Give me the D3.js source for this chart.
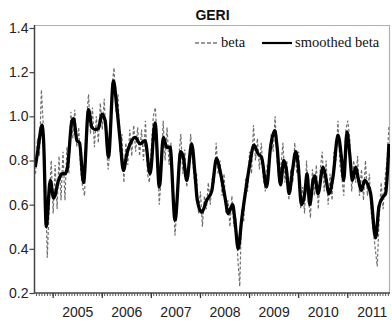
<!DOCTYPE html>
<html>
<head>
<meta charset="utf-8">
<script src="https://cdn.jsdelivr.net/npm/d3@7"></script>
<style>
  html, body { margin: 0; padding: 0; background: #fff; }
  svg { display: block; }
</style>
</head>
<body>
<svg id="chart" width="392" height="324"></svg>
<script>
// Smoothed beta: dates (decimal years) and values
const smoothDates = [
  2004.646, 2004.707, 2004.783, 2004.815, 2004.870, 2004.951, 2005.018, 2005.120, 2005.189, 2005.256,
  2005.303, 2005.392, 2005.425, 2005.494, 2005.547, 2005.628, 2005.730, 2005.799, 2005.866, 2005.933,
  2006.002, 2006.069, 2006.136, 2006.238, 2006.307, 2006.374, 2006.441, 2006.510, 2006.577, 2006.679,
  2006.780, 2006.882, 2006.984, 2007.085, 2007.173, 2007.254, 2007.323, 2007.390, 2007.492, 2007.608,
  2007.661, 2007.730, 2007.831, 2007.898, 2007.945, 2008.035, 2008.136, 2008.238, 2008.339, 2008.407,
  2008.508, 2008.575, 2008.665, 2008.711, 2008.778, 2008.848, 2008.949, 2009.016, 2009.098, 2009.185,
  2009.254, 2009.356, 2009.437, 2009.524, 2009.571, 2009.640, 2009.707, 2009.762, 2009.815, 2009.884,
  2009.951, 2009.998, 2010.067, 2010.134, 2010.181, 2010.236, 2010.303, 2010.337, 2010.404, 2010.506,
  2010.561, 2010.628, 2010.709, 2010.811, 2010.880, 2010.927, 2010.994, 2011.049, 2011.104, 2011.171,
  2011.217, 2011.287, 2011.354, 2011.409, 2011.476, 2011.577, 2011.644, 2011.726, 2011.780, 2011.848
];
const smoothValues = [
  0.77, 0.86, 0.96, 0.89, 0.50, 0.71, 0.63, 0.71, 0.74, 0.74,
  0.77, 0.98, 0.99, 0.89, 0.88, 0.70, 1.03, 0.95, 0.94, 0.945,
  1.01, 0.98, 0.815, 1.16, 1.04, 0.89, 0.755, 0.83, 0.875, 0.905,
  0.875, 0.89, 0.74, 0.97, 0.68, 0.905, 0.86, 0.86, 0.53, 0.84,
  0.815, 0.71, 0.875, 0.74, 0.62, 0.565, 0.62, 0.66, 0.81, 0.755,
  0.635, 0.56, 0.60, 0.53, 0.40, 0.53, 0.69, 0.785, 0.87, 0.83,
  0.815, 0.68, 0.86, 0.935, 0.86, 0.69, 0.80, 0.755, 0.65, 0.755,
  0.84, 0.785, 0.60, 0.65, 0.74, 0.60, 0.71, 0.73, 0.65, 0.77,
  0.725, 0.65, 0.725, 0.915, 0.815, 0.71, 0.93, 0.83, 0.71, 0.77,
  0.725, 0.665, 0.71, 0.695, 0.65, 0.45, 0.59, 0.635, 0.65, 0.875
];

// Raw beta: observed every betaStep years starting at betaStart
const betaStart = 2004.65;
const betaStep = 0.04;
const betaValues = [
  0.74, 0.90, 0.82, 1.12, 0.95, 0.72, 0.36, 0.60, 0.80, 0.56,
  0.78, 0.58, 0.82, 0.62, 0.84, 0.62, 0.86, 0.74, 1.02, 0.90,
  1.03, 0.86, 0.95, 0.76, 0.68, 0.64, 0.98, 1.10, 0.92, 1.04,
  0.86, 1.00, 0.88, 1.06, 0.94, 1.08, 0.88, 0.76, 0.86, 1.14,
  1.22, 1.02, 1.10, 0.84, 0.92, 0.70, 0.88, 0.78, 0.94, 0.82,
  0.96, 0.84, 0.95, 0.82, 0.94, 0.80, 0.98, 0.74, 0.70, 0.86,
  1.00, 1.04, 0.90, 0.60, 0.72, 0.98, 0.80, 0.95, 0.78, 0.88,
  0.72, 0.46, 0.58, 0.82, 0.92, 0.74, 0.85, 0.68, 0.74, 0.92,
  0.80, 0.70, 0.74, 0.56, 0.66, 0.50, 0.64, 0.58, 0.70, 0.60,
  0.72, 0.70, 0.88, 0.74, 0.80, 0.64, 0.74, 0.56, 0.62, 0.50,
  0.64, 0.50, 0.54, 0.36, 0.23, 0.58, 0.52, 0.72, 0.66, 0.84,
  0.74, 0.96, 0.80, 0.90, 0.76, 0.88, 0.72, 0.66, 0.78, 0.76,
  0.92, 0.84, 1.00, 0.80, 0.70, 0.78, 0.88, 0.70, 0.80, 0.62,
  0.76, 0.70, 0.88, 0.74, 0.84, 0.58, 0.68, 0.56, 0.80, 0.62,
  0.54, 0.76, 0.64, 0.78, 0.58, 0.76, 0.84, 0.66, 0.80, 0.60,
  0.74, 0.62, 0.84, 0.80, 0.98, 0.78, 0.72, 0.64, 0.94, 0.98,
  0.90, 0.66, 0.80, 0.70, 0.82, 0.64, 0.76, 0.62, 0.80, 0.64,
  0.74, 0.56, 0.48, 0.40, 0.32, 0.54, 0.70, 0.58, 0.72, 0.80,
  0.96
];

const yTicks = [0.2, 0.4, 0.6, 0.8, 1.0, 1.2, 1.4];
const years = [2005, 2006, 2007, 2008, 2009, 2010, 2011];

const title = "GERI";
const legendLabels = ["beta", "smoothed beta"];

const svg = d3.select("#chart");
const plotLeft = 35, plotRight = 390, plotTop = 25, plotBottom = 293;

const x = d3.scaleLinear().domain([2004.64, 2011.87]).range([plotLeft, plotRight]);
const y = d3.scaleLinear().domain([0.2, 1.4]).range([plotBottom, 28]);

// Plot frame (top and right edges in light grey)
svg.append("line").attr("x1", plotLeft).attr("x2", plotRight).attr("y1", plotTop + 0.5).attr("y2", plotTop + 0.5)
  .attr("stroke", "#b0b0b0").attr("stroke-width", 1.2);
svg.append("line").attr("x1", plotRight - 0.5).attr("x2", plotRight - 0.5).attr("y1", plotTop).attr("y2", plotBottom)
  .attr("stroke", "#b0b0b0").attr("stroke-width", 1.2);

const betaData = betaValues.map((v, i) => ({ t: betaStart + i * betaStep, v }));
const smoothData = smoothDates.map((t, i) => ({ t, v: smoothValues[i] }));

const clipId = "plotclip";
svg.append("clipPath").attr("id", clipId).append("rect")
  .attr("x", plotLeft).attr("y", plotTop).attr("width", plotRight - plotLeft).attr("height", plotBottom - plotTop);

const plot = svg.append("g").attr("clip-path", `url(#${clipId})`);

plot.append("path")
  .datum(betaData)
  .attr("fill", "none")
  .attr("stroke", "#6e6e6e")
  .attr("stroke-width", 1.2)
  .attr("stroke-dasharray", "3,2")
  .attr("d", d3.line().x(d => x(d.t)).y(d => y(d.v)));

plot.append("path")
  .datum(smoothData)
  .attr("fill", "none")
  .attr("stroke", "#000")
  .attr("stroke-width", 3.3)
  .attr("stroke-linejoin", "round")
  .attr("d", d3.line().curve(d3.curveMonotoneX).x(d => x(d.t)).y(d => y(d.v)));

// Y axis
const yAxis = svg.append("g")
  .attr("transform", `translate(${plotLeft - 0.5},0)`)
  .call(d3.axisLeft(y).tickValues(yTicks).tickFormat(d3.format(".1f")).tickSize(5).tickSizeOuter(0).tickPadding(1));
yAxis.select(".domain").attr("stroke", "#444").attr("stroke-width", 1.5).attr("d", `M0,${plotTop}V${plotBottom}`);
yAxis.selectAll(".tick line").attr("stroke", "#444").attr("stroke-width", 1.2);
yAxis.selectAll(".tick text").attr("font-family", "Liberation Sans, Arial, sans-serif")
  .attr("font-size", 14).attr("fill", "#222");

// X axis: minor ticks, year ticks and mid-year labels
const minorTicks = d3.range(2004.66, 2011.86, 1 / 18);
const xMinor = svg.append("g").attr("transform", `translate(0,${plotBottom})`)
  .call(d3.axisBottom(x).tickValues(minorTicks).tickSize(3).tickSizeOuter(0).tickFormat(""));
xMinor.select(".domain").attr("stroke", "#444").attr("stroke-width", 1.5).attr("d", `M${plotLeft - 1},0H${plotRight}`);
xMinor.selectAll(".tick line").attr("stroke", "#555").attr("stroke-width", 1);

const xMajor = svg.append("g").attr("transform", `translate(0,${plotBottom})`)
  .call(d3.axisBottom(x).tickValues(years).tickSize(5).tickFormat(""));
xMajor.select(".domain").remove();
xMajor.selectAll(".tick line").attr("stroke", "#333").attr("stroke-width", 1.2);

const xLabels = svg.append("g").attr("transform", `translate(0,${plotBottom})`)
  .call(d3.axisBottom(x).tickValues(years.map(v => v + 0.5)).tickSize(0).tickPadding(14)
    .tickFormat(d => String(Math.floor(d))));
xLabels.select(".domain").remove();
xLabels.selectAll(".tick text").attr("font-family", "Liberation Sans, Arial, sans-serif")
  .attr("font-size", 14).attr("fill", "#222");

// Title
svg.append("text")
  .attr("x", (plotLeft + plotRight) / 2).attr("y", 20)
  .attr("text-anchor", "middle")
  .attr("font-family", "Liberation Sans Narrow, Arial Narrow, Liberation Sans, sans-serif")
  .attr("font-weight", "bold")
  .attr("font-size", 14)
  .attr("fill", "#111")
  .text(title);

// Legend
const lg = svg.append("g").attr("font-family", "Liberation Serif, Times New Roman, serif")
  .attr("font-size", 14.5).attr("fill", "#111");
lg.append("line").attr("x1", 195).attr("x2", 217).attr("y1", 43).attr("y2", 43)
  .attr("stroke", "#333").attr("stroke-width", 1).attr("stroke-dasharray", "4,2");
lg.append("text").attr("x", 221).attr("y", 47).text(legendLabels[0]);
lg.append("line").attr("x1", 262).attr("x2", 292).attr("y1", 43).attr("y2", 43)
  .attr("stroke", "#000").attr("stroke-width", 2.2);
lg.append("text").attr("x", 295).attr("y", 47).text(legendLabels[1]);
</script>
</body>
</html>
